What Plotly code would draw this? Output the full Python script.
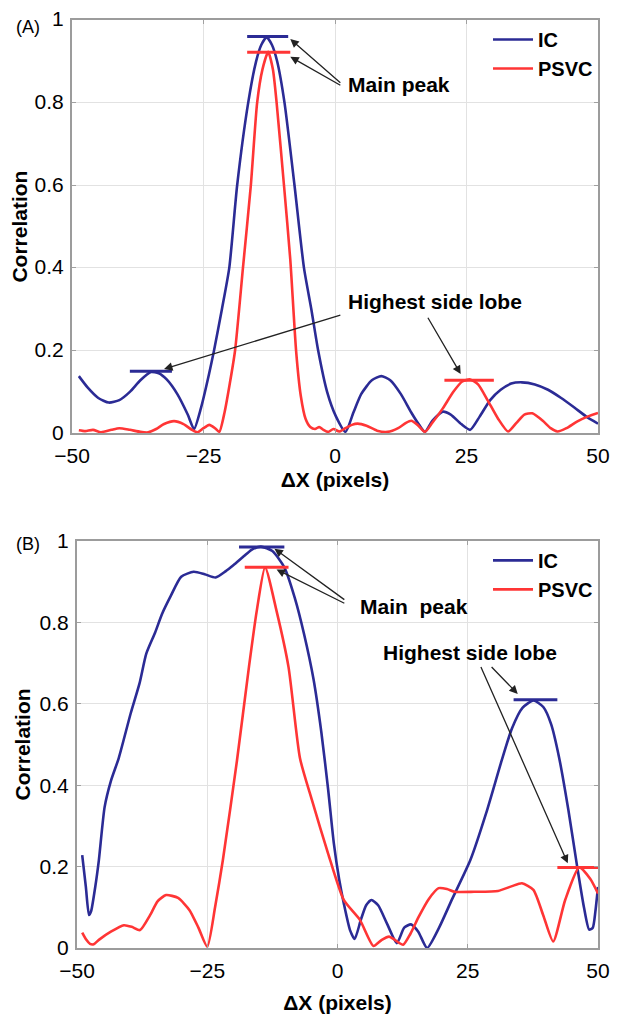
import plotly.graph_objects as go

# ---------------- Panel A data ----------------
a_ic_x = [-48.7, -47, -45, -43, -41, -39, -37, -35, -33.5, -32, -30, -28, -26.8, -25.5, -24, -23,
          -21.5, -20.1, -18.6, -16.5, -15, -14, -13, -12, -11, -9.6, -7.7, -5.9, -4.5, -3.2, -1.5,
          0.2, 2.0, 3.5, 5, 7, 8.8, 10.5, 12.5, 14.5, 16, 17.1, 18.5, 20.5, 22, 24, 25.7, 27.5,
          29.5, 31.5, 33.5, 35.5, 38, 40.5, 43, 45.5, 48, 50]
a_ic_y = [0.138, 0.11, 0.085, 0.074, 0.08, 0.1, 0.128, 0.148, 0.145, 0.13, 0.095, 0.045, 0.01, 0.06,
          0.14, 0.2, 0.3, 0.4, 0.6, 0.8, 0.9, 0.94, 0.958, 0.94, 0.9, 0.8, 0.6, 0.4, 0.3, 0.2, 0.1,
          0.04, 0.003, 0.05, 0.095, 0.128, 0.138, 0.128, 0.095, 0.05, 0.02, 0.003, 0.03, 0.052,
          0.045, 0.022, 0.008, 0.04, 0.08, 0.105, 0.12, 0.123, 0.118, 0.105, 0.085, 0.062, 0.038,
          0.023]

a_ps_x = [-48.7, -47.5, -46, -44.5, -42.5, -41, -39, -37, -35.5, -34, -32.5, -30.6, -28.8, -27.2,
          -26.1, -25, -23.9, -22.8, -22, -21, -20, -19, -17.5, -16, -14.8, -13.8, -12.7, -11.8,
          -11.1, -9.7, -8.5, -7.4, -6.5, -5.6, -4.7, -3.8, -3, -2.2, -1.3, -0.3, 0.8, 2, 3.2, 4.3,
          6, 8, 10, 12, 13.5, 14.5, 15.7, 17.1, 18.5, 20.5, 22.5, 24.2, 25.7, 27.2, 29, 31, 32.9,
          34.5, 36, 37.5, 39.5, 41, 42.3, 44, 46, 48, 50]
a_ps_y = [0.007, 0.005, 0.008, 0.002, 0.008, 0.012, 0.008, 0.003, 0.002, 0.01, 0.022, 0.029, 0.022,
          0.008, 0.002, 0.012, 0.02, 0.012, 0.003, 0.05, 0.12, 0.2, 0.4, 0.6, 0.8, 0.88, 0.923,
          0.88, 0.8, 0.6, 0.42, 0.2, 0.09, 0.035, 0.015, 0.01, 0.015, 0.008, 0.003, 0.01, 0.004,
          0.012, 0.02, 0.023, 0.018, 0.006, 0.003, 0.012, 0.025, 0.03, 0.02, 0.003, 0.025, 0.06,
          0.1, 0.125, 0.13, 0.118, 0.08, 0.035, 0.004, 0.025, 0.045, 0.048, 0.03, 0.012, 0.004,
          0.012, 0.028, 0.04, 0.049]

# peak marker bars: (x_start, x_end, level)
a_ic_bars = [(-16.7, -8.9, 0.96), (-39, -31, 0.15)]
a_ps_bars = [(-16.7, -8.5, 0.922), (20.8, 30.2, 0.128)]

# ---------------- Panel B data ----------------
b_ic_x = [-49, -48.3, -47.7, -47.3, -46.5, -45.8, -44.7, -43.5, -42, -39.7, -38, -36.7, -35, -33.7,
          -32, -30, -27.6, -25.5, -23.4, -21.5, -20, -18, -16.5, -14.7, -12.5, -10.2, -8.2, -6.4,
          -4.6, -3.1, -1.8, -0.7, 0.3, 1.2, 2.4, 3.3, 4.5, 5.5, 6.5, 7.8, 9.5, 11.4, 12.8, 14.1,
          15.5, 17.2, 19.5, 22, 25.5, 28.5, 31.5, 33.5, 35.5, 37.6, 39.5, 41, 42.5, 44.3, 46,
          47.3, 48.3, 49, 49.5, 50]
b_ic_y = [0.228, 0.15, 0.081, 0.09, 0.15, 0.216, 0.346, 0.41, 0.466, 0.576, 0.65, 0.723, 0.775,
          0.82, 0.865, 0.912, 0.924, 0.918, 0.91, 0.925, 0.94, 0.962, 0.978, 0.986, 0.975, 0.935,
          0.86, 0.77, 0.66, 0.53, 0.39, 0.257, 0.17, 0.11, 0.044, 0.022, 0.07, 0.105, 0.118, 0.105,
          0.06, 0.012, 0.05, 0.058, 0.04, 0.0, 0.05, 0.12, 0.216, 0.33, 0.46, 0.54, 0.59, 0.608,
          0.592, 0.55, 0.47, 0.34, 0.2, 0.1, 0.045, 0.05, 0.09, 0.15]

b_ps_x = [-49, -48.2, -47.5, -46.8, -45.8, -43.5, -41, -39.5, -37.9, -36, -34.5, -32.9, -30.6,
          -28.4, -26.7, -25, -23.5, -22, -19.3, -17, -15.5, -13.9, -11.7, -9.4, -7.2, -4.9, -1.8,
          1.2, 4.3, 6.9, 8.5, 9.9, 11, 12.6, 14, 15.6, 17.5, 19.4, 21, 22.5, 26.2, 30.8, 33.5,
          35.4, 37.6, 39.5, 41.4, 43.7, 46.4, 48.5, 50]
b_ps_y = [0.038, 0.02, 0.01, 0.009, 0.02, 0.04, 0.056, 0.052, 0.044, 0.08, 0.115, 0.13, 0.123,
          0.093, 0.05, 0.003, 0.1, 0.216, 0.46, 0.69, 0.828, 0.935, 0.828, 0.69, 0.466, 0.363,
          0.232, 0.118, 0.069, 0.005, 0.02, 0.028, 0.02, 0.008, 0.035, 0.077, 0.12, 0.147, 0.145,
          0.138, 0.138, 0.14, 0.152, 0.159, 0.143, 0.08, 0.016, 0.118, 0.198, 0.17, 0.134]

b_ic_bars = [(-18.9, -10.2, 0.985), (33.8, 42.2, 0.61)]
b_ps_bars = [(-17.8, -9.4, 0.935), (42.2, 50, 0.198)]

# ticks
x_ticks = [-50, -25, 0, 25, 50]
x_tick_text = ["\u221250", "\u221225", "0", "25", "50"]
y_ticks = [0, 0.2, 0.4, 0.6, 0.8, 1]
y_tick_text = ["0", "0.2", "0.4", "0.6", "0.8", "1"]

BLUE = "#2B2B95"
RED = "#FF3535"
FONT = "Liberation Sans, Arial, sans-serif"

fig = go.Figure()


def add_panel(xa, ya, ic_x, ic_y, ps_x, ps_y, ic_bars, ps_bars, legend):
    fig.add_trace(go.Scatter(x=ic_x, y=ic_y, mode="lines", name="IC",
                             line=dict(color=BLUE, width=2.6, shape="spline", smoothing=0.6),
                             xaxis=xa, yaxis=ya, legend=legend))
    fig.add_trace(go.Scatter(x=ps_x, y=ps_y, mode="lines", name="PSVC",
                             line=dict(color=RED, width=2.6, shape="spline", smoothing=0.6),
                             xaxis=xa, yaxis=ya, legend=legend))
    for x0, x1, lv in ic_bars:
        fig.add_trace(go.Scatter(x=[x0, x1], y=[lv, lv], mode="lines", showlegend=False,
                                 line=dict(color=BLUE, width=3), xaxis=xa, yaxis=ya,
                                 hoverinfo="skip"))
    for x0, x1, lv in ps_bars:
        fig.add_trace(go.Scatter(x=[x0, x1], y=[lv, lv], mode="lines", showlegend=False,
                                 line=dict(color=RED, width=3), xaxis=xa, yaxis=ya,
                                 hoverinfo="skip"))


add_panel("x", "y", a_ic_x, a_ic_y, a_ps_x, a_ps_y, a_ic_bars, a_ps_bars, "legend")
add_panel("x2", "y2", b_ic_x, b_ic_y, b_ps_x, b_ps_y, b_ic_bars, b_ps_bars, "legend2")

axis_common = dict(showline=True, linecolor="#9c9c9c", linewidth=2, mirror="ticks",
                   ticks="inside", ticklen=4, tickcolor="#a0a0a0", showgrid=True,
                   gridcolor="#e2e2e2", gridwidth=1, zeroline=False, automargin=False,
                   ticklabeloverflow="allow",
                   tickfont=dict(family=FONT, size=21, color="black"))

xcommon = dict(axis_common, range=[-50, 50], tickvals=x_ticks, ticktext=x_tick_text,
               ticklabelstandoff=3)
ycommon = dict(axis_common, range=[0, 1], tickvals=y_ticks, ticktext=y_tick_text,
               ticklabelstandoff=2)

title_font = dict(family=FONT, size=21, color="black", weight="bold")

# the page body adds an 8px offset; the figure is sized so the plot lands in place
fig.update_layout(
    template="none",
    width=611, height=1008,
    margin=dict(l=64, r=21, t=12, b=68),
    plot_bgcolor="white", paper_bgcolor="white",
    xaxis=dict(xcommon, domain=[0, 1], anchor="y",
               title=dict(text="\u0394X (pixels)", font=title_font, standoff=6)),
    yaxis=dict(ycommon, domain=[0.5548, 1], anchor="x", ticklabelshift=-1,
               title=dict(text="Correlation", font=title_font, standoff=3)),
    xaxis2=dict(xcommon, domain=[0.0095, 1], anchor="y2",
                title=dict(text="\u0394X (pixels)", font=title_font, standoff=14)),
    yaxis2=dict(ycommon, domain=[0, 0.4387], anchor="x2",
                title=dict(text="Correlation", font=title_font, standoff=3)),
    legend=dict(x=1, y=1, xanchor="right", yanchor="top", bgcolor="white",
                borderwidth=0, font=dict(family=FONT, size=20, color="black", weight="bold"),
                tracegroupgap=0, itemwidth=40),
    legend2=dict(x=1, y=0.4387, xanchor="right", yanchor="top", bgcolor="white",
                 borderwidth=0, font=dict(family=FONT, size=20, color="black", weight="bold"),
                 tracegroupgap=0, itemwidth=40),
    showlegend=True,
)

ann_font = dict(family=FONT, size=21, color="black", weight="bold")
texts = [
    ("x", "y", 2.1, 0.845, "Main peak"),
    ("x", "y", 2.1, 0.319, "Highest side lobe"),
    ("x2", "y2", 3.9, 0.84, "Main  peak"),
    ("x2", "y2", 8.4, 0.726, "Highest side lobe"),
]
for xr, yr, tx, ty, t in texts:
    fig.add_annotation(xref=xr, yref=yr, x=tx, y=ty, text=t, showarrow=False,
                       xanchor="left", yanchor="middle", font=ann_font)

# arrows: (xref, yref, head_x, head_y, tail_x, tail_y)
arrows = [
    ("x", "y", -8.5, 0.954, 1.3, 0.845),
    ("x", "y", -8.5, 0.911, 1.3, 0.84),
    ("x", "y", -32.5, 0.155, 1.3, 0.287),
    ("x", "y", 23.9, 0.143, 17.5, 0.283),
    ("x2", "y2", -12.1, 0.981, 1.6, 0.853),
    ("x2", "y2", -11.7, 0.93, 1.6, 0.845),
    ("x2", "y2", 34.6, 0.624, 29.3, 0.694),
    ("x2", "y2", 44.2, 0.208, 27.4, 0.694),
]
for xr, yr, hx, hy, tx, ty in arrows:
    fig.add_annotation(xref=xr, yref=yr, x=hx, y=hy, ax=tx, ay=ty, axref=xr, ayref=yr,
                       text="", showarrow=True, arrowhead=2, arrowsize=1.3, arrowwidth=1.3,
                       arrowcolor="#222222", standoff=0, startstandoff=0)

# panel labels
fig.add_annotation(xref="paper", yref="paper", x=-0.084, y=0.992, text="(A)", showarrow=False,
                   xanchor="center", yanchor="middle",
                   font=dict(family=FONT, size=18, color="black"))
fig.add_annotation(xref="paper", yref="paper", x=-0.084, y=0.4355, text="(B)", showarrow=False,
                   xanchor="center", yanchor="middle",
                   font=dict(family=FONT, size=18, color="black"))

fig.write_html("out.html")
